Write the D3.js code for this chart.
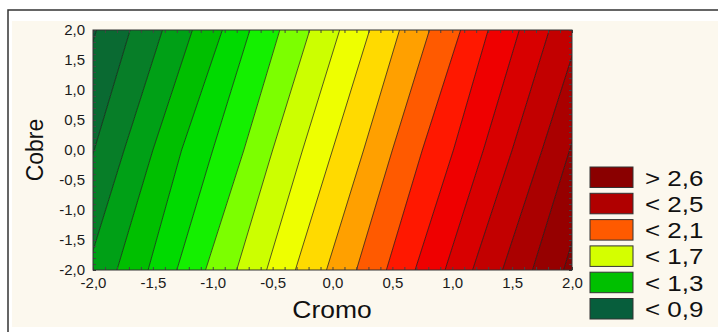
<!DOCTYPE html>
<html lang="en">
<head>
<meta charset="utf-8">
<title>Cromo x Cobre</title>
<script src="https://d3js.org/d3.v7.min.js"></script>
<style>
	body { margin: 0; background: #fff; }
	text { font-family: "Liberation Sans", Arial, sans-serif; fill: #111; }
</style>
</head>
<body>
<script>
// contour levels, and where each contour crosses Cobre = 2, 0 and -2 (in Cromo units)
var levels  = [0.9, 1.0, 1.1, 1.2, 1.3, 1.4, 1.5, 1.6, 1.7, 1.8, 1.9, 2.0, 2.1, 2.2, 2.3, 2.4, 2.5, 2.6, 2.7];
var xAtTop  = [-1.97, -1.69, -1.42, -1.17, -0.92, -0.69, -0.44, -0.19, 0.06, 0.31, 0.56, 0.81, 1.07, 1.30, 1.56, 1.81, 2.07, 2.30, 2.55];
var xAtMid  = [-2.29, -1.99, -1.74, -1.50, -1.26, -1.00, -0.74, -0.50, -0.25, 0.00, 0.26, 0.50, 0.75, 1.01, 1.26, 1.50, 1.75, 1.98, 2.23];
var xAtBot  = [-2.61, -2.31, -2.05, -1.80, -1.54, -1.30, -1.06, -0.80, -0.55, -0.31, -0.05, 0.20, 0.45, 0.69, 0.94, 1.17, 1.42, 1.67, 1.93];

// one colour per band, from below the first level to above the last
var bandColors = ["#0a5c3c", "#0a6a32", "#077e28", "#00a016", "#00bf00", "#00da00", "#14f000", "#7cff00",
	"#ccff00", "#eeff00", "#ffda00", "#ffa000", "#ff5a00", "#ff1800", "#ef0000", "#d80000",
	"#c20000", "#aa0000", "#960000", "#880000"];

var ticks = [-2, -1.5, -1, -0.5, 0, 0.5, 1, 1.5, 2];
var tickLabels = ["-2,0", "-1,5", "-1,0", "-0,5", "0,0", "0,5", "1,0", "1,5", "2,0"];

var legendLabels = ["> 2,6", "< 2,5", "< 2,1", "< 1,7", "< 1,3", "< 0,9"];
var legendColors = ["#8a0000", "#b00000", "#ff5a00", "#d4ff00", "#00c000", "#075e3c"];

var w = 718, h = 332;
var pl = 93, pr = 572, pt = 30, pb = 270;

var x = d3.scaleLinear().domain([-2, 2]).range([pl, pr]);
var y = d3.scaleLinear().domain([-2, 2]).range([pb, pt]);

var svg = d3.select("body").append("svg").attr("width", w).attr("height", h);

// frame of the window
svg.append("rect").attr("x", 12).attr("y", 21).attr("width", w - 12).attr("height", 306).attr("fill", "#fcf8ee");
svg.append("path").attr("d", "M8," + h + "V10H" + w).attr("fill", "none").attr("stroke", "#333").attr("stroke-width", 1.5);

svg.append("clipPath").attr("id", "plot")
	.append("rect").attr("x", pl).attr("y", pt).attr("width", pr - pl).attr("height", pb - pt);

// points of a contour, bottom to top
function contour(i) {
	if (i < 0) return [[-4, -2], [-4, 0], [-4, 2]];
	if (i >= levels.length) return [[4, -2], [4, 0], [4, 2]];
	return [[xAtBot[i], -2], [xAtMid[i], 0], [xAtTop[i], 2]];
}
var line = d3.line().x(d => x(d[0])).y(d => y(d[1]));

var g = svg.append("g").attr("clip-path", "url(#plot)");

g.selectAll("path.band")
	.data(bandColors)
	.enter().append("path")
	.attr("class", "band")
	.attr("d", (c, i) => line(contour(i - 1).concat(contour(i).slice().reverse())) + "Z")
	.attr("fill", c => c)
	.attr("stroke", c => c)
	.attr("stroke-width", 0.5);

g.selectAll("path.iso")
	.data(levels)
	.enter().append("path")
	.attr("class", "iso")
	.attr("d", (d, i) => line(contour(i)))
	.attr("fill", "none")
	.attr("stroke", "#1a1a1a")
	.attr("stroke-opacity", 0.8)
	.attr("stroke-width", 0.9);

// small inner ticks every 0.1
var minor = d3.range(-20, 21).map(d => d / 10);
function inner(axis, tx, ty) {
	svg.append("g").attr("transform", "translate(" + tx + "," + ty + ")")
		.call(axis.tickValues(minor).tickSize(-3).tickFormat(""))
		.call(s => s.select(".domain").remove())
		.selectAll("line").attr("stroke", "#444");
}
inner(d3.axisBottom(x), 0, pb);
inner(d3.axisTop(x), 0, pt);
inner(d3.axisLeft(y), pl, 0);
inner(d3.axisRight(y), pr, 0);

svg.append("rect").attr("x", pl).attr("y", pt).attr("width", pr - pl).attr("height", pb - pt)
	.attr("fill", "none").attr("stroke", "#333").attr("stroke-width", 1);

// axes
svg.append("g").attr("transform", "translate(0," + pb + ")")
	.call(d3.axisBottom(x).tickValues(ticks).tickSize(0).tickPadding(7).tickFormat((d, i) => tickLabels[i]))
	.call(s => s.select(".domain").remove());

svg.append("g").attr("transform", "translate(" + pl + ",0)")
	.call(d3.axisLeft(y).tickValues(ticks).tickSize(0).tickPadding(8).tickFormat((d, i) => tickLabels[i]))
	.call(s => s.select(".domain").remove());

svg.selectAll(".tick text").attr("font-family", null).style("font-size", "15px").style("fill", "#1a1a1a");

svg.append("text").attr("transform", "translate(332,318) scale(1.15,1)").attr("text-anchor", "middle")
	.style("font-size", "23px").text("Cromo");

svg.append("text").attr("transform", "translate(43,150) rotate(-90)").attr("text-anchor", "middle")
	.style("font-size", "23px").text("Cobre");

// legend
var leg = svg.append("g").selectAll("g")
	.data(legendLabels)
	.enter().append("g")
	.attr("transform", (d, i) => "translate(590," + (167 + i * 26.3) + ")");

leg.append("rect").attr("width", 43).attr("height", 20.5)
	.attr("fill", (d, i) => legendColors[i]).attr("stroke", "#333").attr("stroke-width", 1);

leg.append("text").attr("transform", "translate(55,18.5) scale(1.18,1)").style("font-size", "22px").text(d => d);
</script>
</body>
</html>
